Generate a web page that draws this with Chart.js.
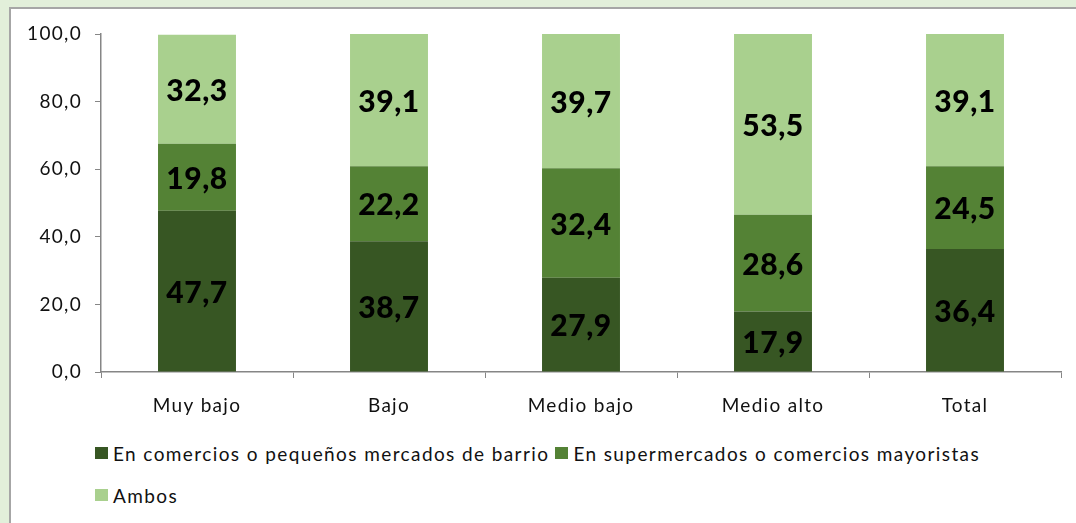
<!DOCTYPE html>
<html>
<head>
<meta charset="utf-8">
<script src="https://cdn.jsdelivr.net/npm/chart.js@4"></script>
<style>
  body { margin: 0; background: #e2efda; width: 1076px; height: 523px; overflow: hidden; font-family: Lato, sans-serif; }
  #panel { position: absolute; left: 9px; top: 7px; width: 1080px; height: 530px; background: #fff; border: 2px solid #a6a6a6; }
  #wrap { position: absolute; left: 0; top: 0; width: 1076px; height: 430px; }
  #legend { position: absolute; left: 95px; top: 432px; width: 960px; font-size: 19px; letter-spacing: 1.4px; color: #111; }
  .item { display: inline-flex; align-items: center; margin-right: 6px; height: 42px; }
  .box { width: 13px; height: 12px; margin-right: 5px; }
</style>
</head>
<body>
<div id="panel"></div>
<div id="wrap"><canvas id="myChart"></canvas></div>
<div id="legend"></div>
<script>
// ------------------ data ------------------//
var categories = ["Muy bajo", "Bajo", "Medio bajo", "Medio alto", "Total"];
var seriesNames = ["En comercios o pequeños mercados de barrio", "En supermercados o comercios mayoristas", "Ambos"];
var comercios = [47.7, 38.7, 27.9, 17.9, 36.4];
var supermercados = [19.8, 22.2, 32.4, 28.6, 24.5];
var ambos = [32.3, 39.1, 39.7, 53.5, 39.1];
var yTicks = [0, 20, 40, 60, 80, 100];
var colors = ["#375623", "#548235", "#a9d08e"];

function fmt(v) { return v.toFixed(1).replace(".", ","); }

// wider axis text, like the original
var spacing = {
    id: "spacing",
    beforeLayout: function (chart) { chart.ctx.letterSpacing = "1.3px"; },
    beforeDraw: function (chart) { chart.ctx.letterSpacing = "1.3px"; }
};

// draw the values in the middle of each segment
var valueLabels = {
    id: "valueLabels",
    afterDatasetsDraw: function (chart) {
        var ctx = chart.ctx;
        ctx.save();
        ctx.letterSpacing = "0.5px";
        ctx.font = "900 30px Lato, sans-serif";
        ctx.fillStyle = "#000";
        ctx.textAlign = "center";
        ctx.textBaseline = "middle";
        chart.data.datasets.forEach(function (ds, i) {
            chart.getDatasetMeta(i).data.forEach(function (bar, j) {
                var y = (bar.y + bar.base) / 2;
                ctx.fillText(fmt(ds.data[j]), bar.x, y + 2);
            });
        });
        ctx.restore();
    }
};

var data = [comercios, supermercados, ambos];
var datasets = seriesNames.map(function (name, i) {
    return {
        label: name,
        data: data[i],
        backgroundColor: colors[i],
        barPercentage: 0.406,
        categoryPercentage: 1
    };
});

new Chart("myChart", {
    type: "bar",
    data: { labels: categories, datasets: datasets },
    plugins: [spacing, valueLabels],
    options: {
        responsive: true,
        maintainAspectRatio: false,
        animation: false,
        layout: { padding: { left: 0, right: 15, top: 34, bottom: 0 } },
        plugins: { legend: { display: false }, tooltip: { enabled: false } },
        scales: {
            x: {
                stacked: true,
                afterFit: function (s) { s.height = 58; },
                grid: { drawOnChartArea: false, tickLength: 6, color: "#868686" },
                border: { color: "#868686", width: 1.5 },
                ticks: { color: "#111", font: { family: "Lato", size: 19 }, padding: 16 }
            },
            y: {
                stacked: true,
                min: 0,
                max: 100,
                afterFit: function (s) { s.width = 101; },
                afterBuildTicks: function (s) { s.ticks = yTicks.map(function (v) { return { value: v }; }); },
                grid: { drawOnChartArea: false, tickLength: 6, color: "#868686" },
                border: { color: "#868686", width: 1.5 },
                ticks: {
                    color: "#111",
                    font: { family: "Lato", size: 19 },
                    padding: 13,
                    callback: function (v) { return fmt(v); }
                }
            }
        }
    }
});

// html legend, left aligned like the original
var legend = document.getElementById("legend");
seriesNames.forEach(function (name, i) {
    var item = document.createElement("span");
    item.className = "item";
    item.innerHTML = '<span class="box" style="background:' + colors[i] + '"></span>' + name;
    legend.appendChild(item);
});
</script>
</body>
</html>
